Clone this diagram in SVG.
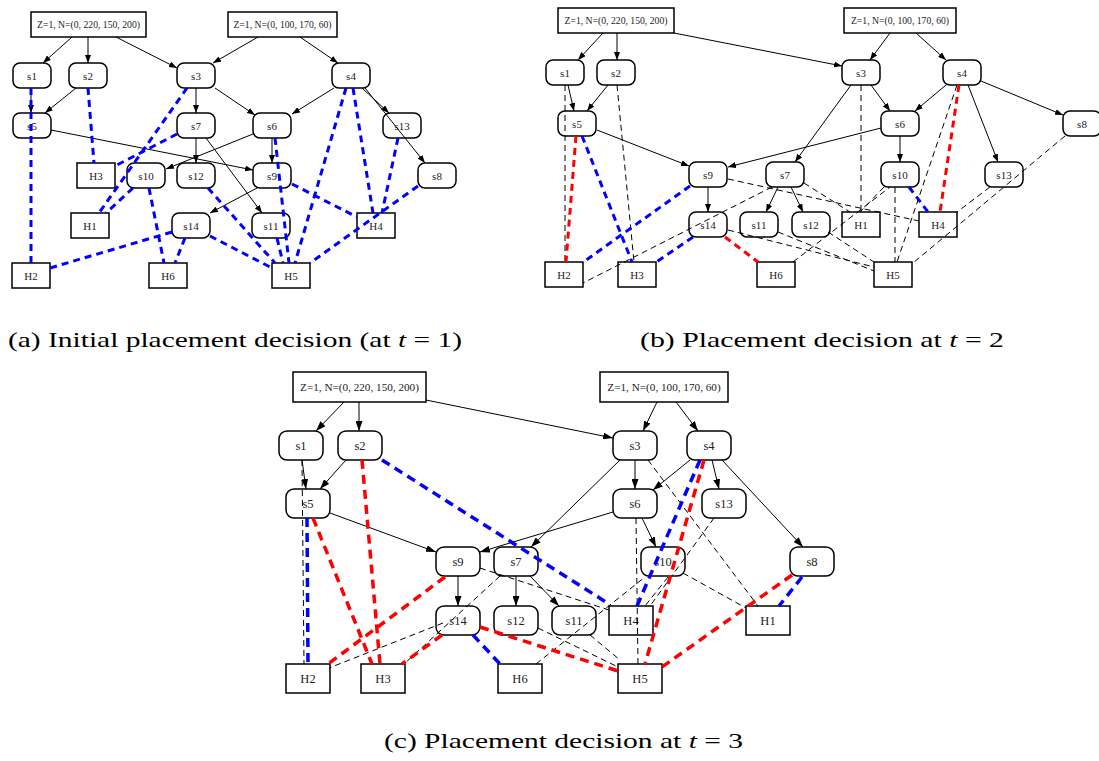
<svg xmlns="http://www.w3.org/2000/svg" width="1099" height="761" viewBox="0 0 1099 761">
<style>
text{font-family:"Liberation Serif","DejaVu Serif",serif;fill:#222;text-anchor:middle}
.t{font-size:11px}.tc{font-size:12.5px}.z{font-size:9.7px}.zc{font-size:11.2px}
.n{fill:#fff;stroke:#000;stroke-width:1.5}
.e{stroke:#000;stroke-width:1;fill:none}
.d{stroke:#000;stroke-width:1;stroke-dasharray:6 4;fill:none}
.b{stroke:#00f;stroke-width:3;stroke-dasharray:7 5;fill:none}
.r{stroke:#f00;stroke-width:3;stroke-dasharray:7 5;fill:none}
.bc{stroke:#00f;stroke-width:3.5;stroke-dasharray:9 6;fill:none}
.rc{stroke:#f00;stroke-width:3.5;stroke-dasharray:9 6;fill:none}
.cap{font-size:21px;fill:#000;text-anchor:start}
</style>
<defs>
<marker id="ar" markerWidth="8" markerHeight="6" refX="8" refY="3" orient="auto" markerUnits="userSpaceOnUse"><path d="M0,0 L8,3 L0,6 z" fill="#000"/></marker>
<marker id="arc" markerWidth="10" markerHeight="7" refX="10" refY="3.5" orient="auto" markerUnits="userSpaceOnUse"><path d="M0,0 L10,3.5 L0,7 z" fill="#000"/></marker>
</defs>
<rect width="1099" height="761" fill="#fff"/>

<!-- Panel (a) nodes -->
<g id="a-Z1"><rect class="n" x="31" y="12" width="115" height="25"/><text class="z" x="88.5" y="28">Z=1, N=(0, 220, 150, 200)</text></g>
<g id="a-Z2"><rect class="n" x="228" y="12" width="109" height="25"/><text class="z" x="282.5" y="28">Z=1, N=(0, 100, 170, 60)</text></g>
<g id="a-s1"><rect class="n" x="13" y="63" width="38" height="25" rx="7"/><text class="t" x="32" y="79.5">s1</text></g>
<g id="a-s2"><rect class="n" x="69" y="63" width="38" height="25" rx="7"/><text class="t" x="88" y="79.5">s2</text></g>
<g id="a-s3"><rect class="n" x="177" y="63" width="38" height="25" rx="7"/><text class="t" x="196" y="79.5">s3</text></g>
<g id="a-s4"><rect class="n" x="332" y="63" width="38" height="25" rx="7"/><text class="t" x="351" y="79.5">s4</text></g>
<g id="a-s5"><rect class="n" x="13" y="113" width="38" height="25" rx="7"/><text class="t" x="32" y="129.5">s5</text></g>
<g id="a-s7"><rect class="n" x="177" y="113" width="38" height="25" rx="7"/><text class="t" x="196" y="129.5">s7</text></g>
<g id="a-s6"><rect class="n" x="253" y="113" width="38" height="25" rx="7"/><text class="t" x="272" y="129.5">s6</text></g>
<g id="a-s13"><rect class="n" x="383" y="113" width="38" height="25" rx="7"/><text class="t" x="402" y="129.5">s13</text></g>
<g id="a-H3"><rect class="n" x="77" y="163" width="38" height="25"/><text class="t" x="96" y="179.5">H3</text></g>
<g id="a-s10"><rect class="n" x="127" y="163" width="38" height="25" rx="7"/><text class="t" x="146" y="179.5">s10</text></g>
<g id="a-s12"><rect class="n" x="177" y="163" width="38" height="25" rx="7"/><text class="t" x="196" y="179.5">s12</text></g>
<g id="a-s9"><rect class="n" x="253" y="163" width="38" height="25" rx="7"/><text class="t" x="272" y="179.5">s9</text></g>
<g id="a-s8"><rect class="n" x="418" y="163" width="38" height="25" rx="7"/><text class="t" x="437" y="179.5">s8</text></g>
<g id="a-H1"><rect class="n" x="71" y="213" width="38" height="25"/><text class="t" x="90" y="229.5">H1</text></g>
<g id="a-s14"><rect class="n" x="172" y="213" width="38" height="25" rx="7"/><text class="t" x="191" y="229.5">s14</text></g>
<g id="a-s11"><rect class="n" x="252" y="213" width="38" height="25" rx="7"/><text class="t" x="271" y="229.5">s11</text></g>
<g id="a-H4"><rect class="n" x="357" y="213" width="38" height="25"/><text class="t" x="376" y="229.5">H4</text></g>
<g id="a-H2"><rect class="n" x="12" y="263" width="38" height="25"/><text class="t" x="31" y="279.5">H2</text></g>
<g id="a-H6"><rect class="n" x="149" y="263" width="38" height="25"/><text class="t" x="168" y="279.5">H6</text></g>
<g id="a-H5"><rect class="n" x="272" y="263" width="38" height="25"/><text class="t" x="291" y="279.5">H5</text></g>

<!-- Panel (b) nodes -->
<g id="b-Z1"><rect class="n" x="558" y="8" width="116" height="25"/><text class="z" x="616" y="24">Z=1, N=(0, 220, 150, 200)</text></g>
<g id="b-Z2"><rect class="n" x="844" y="8" width="112" height="25"/><text class="z" x="900" y="24">Z=1, N=(0, 100, 170, 60)</text></g>
<g id="b-s1"><rect class="n" x="546" y="60" width="38" height="25" rx="7"/><text class="t" x="565" y="76.5">s1</text></g>
<g id="b-s2"><rect class="n" x="597" y="60" width="38" height="25" rx="7"/><text class="t" x="616" y="76.5">s2</text></g>
<g id="b-s5"><rect class="n" x="558" y="111" width="38" height="25" rx="7"/><text class="t" x="577" y="127.5">s5</text></g>
<g id="b-s3"><rect class="n" x="842" y="60" width="38" height="25" rx="7"/><text class="t" x="861" y="76.5">s3</text></g>
<g id="b-s4"><rect class="n" x="943" y="60" width="38" height="25" rx="7"/><text class="t" x="962" y="76.5">s4</text></g>
<g id="b-s6"><rect class="n" x="881" y="111" width="38" height="25" rx="7"/><text class="t" x="900" y="127.5">s6</text></g>
<g id="b-s8"><rect class="n" x="1063" y="111" width="38" height="25" rx="7"/><text class="t" x="1082" y="127.5">s8</text></g>
<g id="b-s9"><rect class="n" x="689" y="162" width="38" height="25" rx="7"/><text class="t" x="708" y="178.5">s9</text></g>
<g id="b-s7"><rect class="n" x="766" y="162" width="38" height="25" rx="7"/><text class="t" x="785" y="178.5">s7</text></g>
<g id="b-s10"><rect class="n" x="881" y="162" width="38" height="25" rx="7"/><text class="t" x="900" y="178.5">s10</text></g>
<g id="b-s13"><rect class="n" x="985" y="162" width="38" height="25" rx="7"/><text class="t" x="1004" y="178.5">s13</text></g>
<g id="b-s14"><rect class="n" x="689" y="212" width="38" height="25" rx="7"/><text class="t" x="708" y="228.5">s14</text></g>
<g id="b-s11"><rect class="n" x="740" y="212" width="38" height="25" rx="7"/><text class="t" x="759" y="228.5">s11</text></g>
<g id="b-s12"><rect class="n" x="792" y="212" width="38" height="25" rx="7"/><text class="t" x="811" y="228.5">s12</text></g>
<g id="b-H1"><rect class="n" x="842" y="212" width="38" height="25"/><text class="t" x="861" y="228.5">H1</text></g>
<g id="b-H4"><rect class="n" x="919" y="212" width="38" height="25"/><text class="t" x="938" y="228.5">H4</text></g>
<g id="b-H2"><rect class="n" x="545" y="262" width="38" height="25"/><text class="t" x="564" y="278.5">H2</text></g>
<g id="b-H3"><rect class="n" x="618" y="262" width="38" height="25"/><text class="t" x="637" y="278.5">H3</text></g>
<g id="b-H6"><rect class="n" x="757" y="262" width="38" height="25"/><text class="t" x="776" y="278.5">H6</text></g>
<g id="b-H5"><rect class="n" x="874" y="262" width="38" height="25"/><text class="t" x="893" y="278.5">H5</text></g>

<!-- Panel (c) nodes -->
<g id="c-Z1"><rect class="n" x="293" y="372" width="133" height="30"/><text class="zc" x="359.5" y="391">Z=1, N=(0, 220, 150, 200)</text></g>
<g id="c-Z2"><rect class="n" x="600" y="372" width="128" height="30"/><text class="zc" x="664" y="391">Z=1, N=(0, 100, 170, 60)</text></g>
<g id="c-s1"><rect class="n" x="279" y="431" width="44" height="29" rx="8"/><text class="tc" x="301" y="450">s1</text></g>
<g id="c-s2"><rect class="n" x="338" y="431" width="44" height="29" rx="8"/><text class="tc" x="360" y="450">s2</text></g>
<g id="c-s5"><rect class="n" x="286" y="489" width="44" height="29" rx="8"/><text class="tc" x="308" y="508">s5</text></g>
<g id="c-s3"><rect class="n" x="613" y="431" width="44" height="29" rx="8"/><text class="tc" x="635" y="450">s3</text></g>
<g id="c-s4"><rect class="n" x="687" y="431" width="44" height="29" rx="8"/><text class="tc" x="709" y="450">s4</text></g>
<g id="c-s6"><rect class="n" x="613" y="489" width="44" height="29" rx="8"/><text class="tc" x="635" y="508">s6</text></g>
<g id="c-s13"><rect class="n" x="702" y="489" width="44" height="29" rx="8"/><text class="tc" x="724" y="508">s13</text></g>
<g id="c-s9"><rect class="n" x="436" y="547" width="44" height="29" rx="8"/><text class="tc" x="458" y="566">s9</text></g>
<g id="c-s7"><rect class="n" x="494" y="547" width="44" height="29" rx="8"/><text class="tc" x="516" y="566">s7</text></g>
<g id="c-s10"><rect class="n" x="641" y="547" width="44" height="29" rx="8"/><text class="tc" x="663" y="566">s10</text></g>
<g id="c-s8"><rect class="n" x="790" y="547" width="44" height="29" rx="8"/><text class="tc" x="812" y="566">s8</text></g>
<g id="c-s14"><rect class="n" x="436" y="606" width="44" height="29" rx="8"/><text class="tc" x="458" y="625">s14</text></g>
<g id="c-s12"><rect class="n" x="494" y="606" width="44" height="29" rx="8"/><text class="tc" x="516" y="625">s12</text></g>
<g id="c-s11"><rect class="n" x="552" y="606" width="44" height="29" rx="8"/><text class="tc" x="574" y="625">s11</text></g>
<g id="c-H4"><rect class="n" x="609" y="606" width="44" height="29"/><text class="tc" x="631" y="625">H4</text></g>
<g id="c-H1"><rect class="n" x="746" y="606" width="44" height="29"/><text class="tc" x="768" y="625">H1</text></g>
<g id="c-H2"><rect class="n" x="286" y="664" width="44" height="29"/><text class="tc" x="308" y="683">H2</text></g>
<g id="c-H3"><rect class="n" x="361" y="664" width="44" height="29"/><text class="tc" x="383" y="683">H3</text></g>
<g id="c-H6"><rect class="n" x="498" y="664" width="44" height="29"/><text class="tc" x="520" y="683">H6</text></g>
<g id="c-H5"><rect class="n" x="618" y="664" width="44" height="29"/><text class="tc" x="640" y="683">H5</text></g>

<g id="connectors">
<!-- (a) solid -->
<g class="e" marker-end="url(#ar)">
<line x1="72" y1="37" x2="43" y2="63"/>
<line x1="88" y1="37" x2="88" y2="63"/>
<line x1="116" y1="37" x2="177" y2="68"/>
<line x1="258" y1="37" x2="213" y2="63"/>
<line x1="300" y1="37" x2="338" y2="63"/>
<line x1="31" y1="88" x2="31" y2="113"/>
<line x1="76" y1="88" x2="45" y2="113"/>
<line x1="196" y1="88" x2="196" y2="113"/>
<line x1="215" y1="88" x2="255" y2="115"/>
<line x1="334" y1="88" x2="292" y2="114"/>
<line x1="362" y1="88" x2="389" y2="113"/>
<line x1="365" y1="88" x2="425" y2="163"/>
<line x1="51" y1="130" x2="253" y2="170"/>
<line x1="253" y1="134" x2="166" y2="169"/>
<line x1="196" y1="138" x2="196" y2="163"/>
<line x1="206" y1="138" x2="262" y2="213"/>
<line x1="272" y1="138" x2="272" y2="163"/>
<line x1="257" y1="188" x2="210" y2="213"/>
</g>
<!-- (a) blue -->
<g class="b">
<line x1="31" y1="88" x2="31" y2="263"/>
<line x1="88" y1="88" x2="94" y2="163"/>
<line x1="187" y1="88" x2="99" y2="213"/>
<line x1="177" y1="134" x2="115" y2="166"/>
<line x1="133" y1="188" x2="106" y2="213"/>
<line x1="149" y1="188" x2="164" y2="263"/>
<line x1="185" y1="238" x2="175" y2="263"/>
<line x1="172" y1="232" x2="50" y2="268"/>
<line x1="208" y1="188" x2="275" y2="263"/>
<line x1="210" y1="236" x2="272" y2="268"/>
<line x1="275" y1="138" x2="289" y2="263"/>
<line x1="277" y1="238" x2="283" y2="263"/>
<line x1="346" y1="88" x2="295" y2="263"/>
<line x1="353" y1="88" x2="373" y2="213"/>
<line x1="398" y1="138" x2="382" y2="213"/>
<line x1="418" y1="186" x2="310" y2="263"/>
<line x1="292" y1="184" x2="357" y2="217"/>
</g>

<!-- (b) solid -->
<g class="e" marker-end="url(#ar)">
<line x1="603" y1="33" x2="578" y2="60"/>
<line x1="617" y1="33" x2="617" y2="60"/>
<line x1="674" y1="33" x2="842" y2="66"/>
<line x1="890" y1="33" x2="870" y2="60"/>
<line x1="916" y1="33" x2="946" y2="60"/>
<line x1="568" y1="85" x2="574" y2="111"/>
<line x1="608" y1="85" x2="587" y2="111"/>
<line x1="871" y1="85" x2="890" y2="111"/>
<line x1="946" y1="85" x2="915" y2="111"/>
<line x1="981" y1="81" x2="1063" y2="115"/>
<line x1="851" y1="85" x2="795" y2="162"/>
<line x1="881" y1="128" x2="728" y2="167"/>
<line x1="597" y1="130" x2="689" y2="166"/>
<line x1="900" y1="136" x2="900" y2="162"/>
<line x1="968" y1="85" x2="998" y2="162"/>
<line x1="708" y1="187" x2="708" y2="212"/>
<line x1="778" y1="187" x2="766" y2="212"/>
<line x1="791" y1="187" x2="803" y2="212"/>
</g>
<!-- (b) thin dashed -->
<g class="d">
<line x1="565" y1="85" x2="565" y2="262"/>
<line x1="617" y1="85" x2="634" y2="262"/>
<line x1="728" y1="179" x2="919" y2="221"/>
<line x1="804" y1="183" x2="850" y2="212"/>
<line x1="772" y1="187" x2="583" y2="283"/>
<line x1="728" y1="230" x2="874" y2="267"/>
<line x1="778" y1="232" x2="874" y2="271"/>
<line x1="828" y1="232" x2="874" y2="262"/>
<line x1="793" y1="262" x2="890" y2="187"/>
<line x1="884" y1="187" x2="860" y2="212"/>
<line x1="895" y1="187" x2="895" y2="262"/>
<line x1="861" y1="85" x2="861" y2="212"/>
<line x1="957" y1="85" x2="897" y2="262"/>
<line x1="990" y1="187" x2="957" y2="212"/>
<line x1="1065" y1="136" x2="913" y2="263"/>
</g>
<g class="r">
<line x1="576" y1="136" x2="566" y2="262"/>
<line x1="725" y1="237" x2="758" y2="262"/>
<line x1="959" y1="85" x2="940" y2="212"/>
</g>
<g class="b">
<line x1="582" y1="136" x2="632" y2="262"/>
<line x1="690" y1="186" x2="582" y2="263"/>
<line x1="693" y1="237" x2="655" y2="263"/>
<line x1="909" y1="187" x2="928" y2="212"/>
</g>

<!-- (c) solid -->
<g class="e" marker-end="url(#arc)">
<line x1="344" y1="402" x2="316" y2="431"/>
<line x1="359" y1="402" x2="359" y2="431"/>
<line x1="426" y1="400" x2="613" y2="438"/>
<line x1="657" y1="402" x2="643" y2="431"/>
<line x1="676" y1="402" x2="698" y2="431"/>
<line x1="302" y1="460" x2="306" y2="489"/>
<line x1="346" y1="460" x2="320" y2="489"/>
<line x1="635" y1="460" x2="635" y2="489"/>
<line x1="690" y1="460" x2="653" y2="490"/>
<line x1="712" y1="460" x2="719" y2="489"/>
<line x1="722" y1="460" x2="803" y2="547"/>
<line x1="620" y1="460" x2="531" y2="547"/>
<line x1="330" y1="513" x2="436" y2="552"/>
<line x1="613" y1="512" x2="480" y2="552"/>
<line x1="642" y1="518" x2="656" y2="547"/>
<line x1="458" y1="576" x2="458" y2="606"/>
<line x1="516" y1="576" x2="516" y2="606"/>
<line x1="530" y1="576" x2="559" y2="606"/>
</g>
<!-- (c) thin dashed -->
<g class="d">
<line x1="302" y1="460" x2="304" y2="664"/>
<line x1="648" y1="460" x2="758" y2="606"/>
<line x1="714" y1="518" x2="650" y2="606"/>
<line x1="683" y1="573" x2="746" y2="608"/>
<line x1="636" y1="518" x2="638" y2="664"/>
<line x1="480" y1="568" x2="609" y2="610"/>
<line x1="500" y1="576" x2="404" y2="664"/>
<line x1="443" y1="623" x2="329" y2="668"/>
<line x1="538" y1="628" x2="618" y2="667"/>
<line x1="590" y1="635" x2="620" y2="660"/>
<line x1="536" y1="664" x2="645" y2="577"/>
<line x1="668" y1="577" x2="645" y2="606"/>
</g>
<g class="rc">
<line x1="704" y1="460" x2="645" y2="664"/>
<line x1="362" y1="460" x2="380" y2="664"/>
<line x1="313" y1="518" x2="372" y2="664"/>
<line x1="445" y1="577" x2="328" y2="664"/>
<line x1="442" y1="635" x2="402" y2="664"/>
<line x1="480" y1="627" x2="618" y2="671"/>
<line x1="792" y1="575" x2="662" y2="667"/>
</g>
<g class="bc">
<line x1="700" y1="460" x2="637" y2="606"/>
<line x1="382" y1="460" x2="609" y2="604"/>
<line x1="307" y1="518" x2="308" y2="664"/>
<line x1="473" y1="635" x2="500" y2="664"/>
<line x1="802" y1="577" x2="779" y2="606"/>
</g>
</g>

<!-- captions -->
<text class="cap" x="8" y="347" textLength="454" lengthAdjust="spacingAndGlyphs">(a) Initial placement decision (at <tspan font-style="italic">t</tspan> = 1)</text>
<text class="cap" x="640" y="347" textLength="364" lengthAdjust="spacingAndGlyphs">(b) Placement decision at <tspan font-style="italic">t</tspan> = 2</text>
<text class="cap" x="384" y="748" textLength="359" lengthAdjust="spacingAndGlyphs">(c) Placement decision at <tspan font-style="italic">t</tspan> = 3</text>
</svg>
